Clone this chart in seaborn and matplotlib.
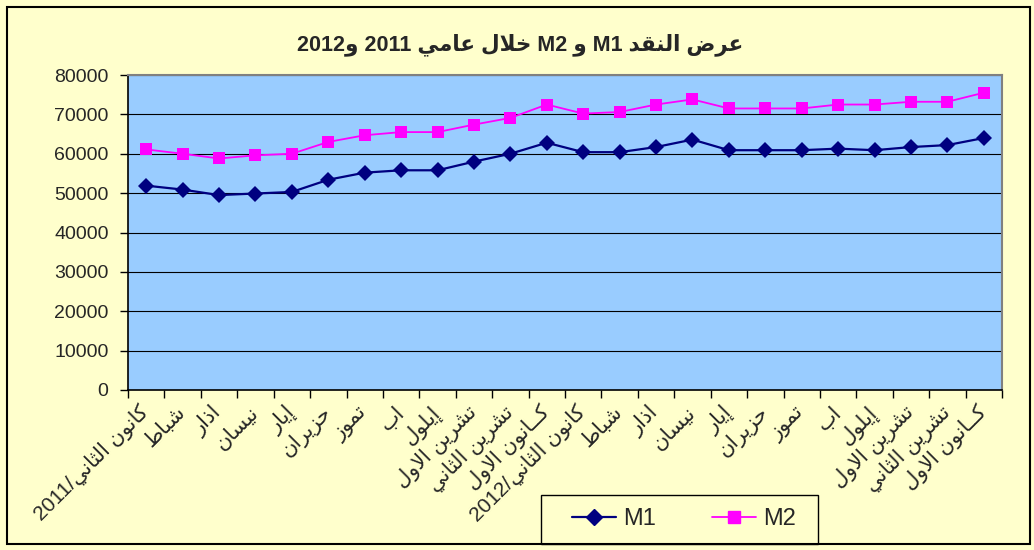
import re
import numpy as np
import pandas as pd
import matplotlib
matplotlib.use("Agg")
import matplotlib.pyplot as plt
from matplotlib.lines import Line2D
from matplotlib.patches import Rectangle
import seaborn as sns

sns.set_style("white")
plt.rcParams['font.family'] = ['Liberation Sans', 'DejaVu Sans']

# data
months = ["كانون الثاني/2011", "شباط", "اذار", "نيسان", "إيار", "حزيران", "تموز", "اب",
          "إيلول", "تشرين الاول", "تشرين الثاني", "كــانون الاول",
          "كانون الثاني/2012", "شباط", "اذار", "نيسان", "إيار", "حزيران", "تموز", "اب",
          "إيلول", "تشرين الاول", "تشرين الثاني", "كــانون الاول"]
m1 = [51900, 50900, 49500, 49900, 50300, 53400, 55200, 55800, 55800, 58000, 60000, 62800,
      60400, 60400, 61700, 63600, 60900, 60900, 60900, 61300, 60900, 61700, 62200, 64000]
m2 = [61100, 60000, 58800, 59600, 60000, 63000, 64700, 65500, 65500, 67400, 69100, 72500,
      70200, 70600, 72500, 73800, 71500, 71500, 71500, 72500, 72500, 73200, 73200, 75500]
title = "عرض النقد M1 و M2 خلال عامي 2011 و2012"

# minimal arabic shaping (presentation forms) + right-to-left ordering
AR_FORMS = {'ا': (0xFE8D, 2), 'إ': (0xFE87, 2), 'ب': (0xFE8F, 4), 'ت': (0xFE95, 4),
            'ث': (0xFE99, 4), 'ح': (0xFEA1, 4), 'خ': (0xFEA5, 4), 'د': (0xFEA9, 2),
            'ذ': (0xFEAB, 2), 'ر': (0xFEAD, 2), 'ز': (0xFEAF, 2), 'س': (0xFEB1, 4),
            'ش': (0xFEB5, 4), 'ض': (0xFEBD, 4), 'ط': (0xFEC1, 4), 'ع': (0xFEC9, 4),
            'ق': (0xFED5, 4), 'ك': (0xFED9, 4), 'ل': (0xFEDD, 4), 'م': (0xFEE1, 4),
            'ن': (0xFEE5, 4), 'و': (0xFEED, 2), 'ي': (0xFEF1, 4)}
LAM_ALEF = {'ا': 0xFEFB, 'إ': 0xFEF9}
TATWEEL = 'ـ'


def joins_fwd(ch):
    return ch == TATWEEL or (ch in AR_FORMS and AR_FORMS[ch][1] == 4)


def joins_back(ch):
    return ch == TATWEEL or ch in AR_FORMS


def ar(text):
    out = []
    i = 0
    while i < len(text):
        c = text[i]
        p = i > 0 and joins_fwd(text[i - 1])
        if c == 'ل' and i + 1 < len(text) and text[i + 1] in LAM_ALEF:
            out.append(chr(LAM_ALEF[text[i + 1]] + (1 if p else 0)))
            i += 2
            continue
        if c not in AR_FORMS:
            out.append(c)
            i += 1
            continue
        base, k = AR_FORMS[c]
        q = k == 4 and i + 1 < len(text) and joins_back(text[i + 1])
        idx = 3 if (p and q) else 1 if p else 2 if q else 0
        out.append(chr(base + idx))
        i += 1
    runs = re.findall(r'[A-Za-z0-9]+|.', ''.join(out))
    return ''.join(runs[::-1])


df = pd.DataFrame({"pos": list(range(len(months))) * 2,
                   "value": m1 + m2,
                   "series": ["M1"] * len(m1) + ["M2"] * len(m2)})

fig = plt.figure(figsize=(10.34, 5.5), dpi=100, facecolor="#FFFFCC")
ax = fig.add_axes([128 / 1034, 1 - 390 / 550, (1002 - 128) / 1034, (390 - 75) / 550])
ax.set_facecolor("#99CCFF")

colors = {"M1": "#000080", "M2": "#FF00FF"}
sns.lineplot(data=df, x="pos", y="value", hue="series", style="series",
             palette=colors, markers={"M1": "D", "M2": "s"}, dashes=False,
             markersize=8, markeredgewidth=0, ax=ax, legend=False)
for line, lw in zip(ax.lines, [1.6, 1.3]):
    line.set_linewidth(lw)

ax.set_xlim(-0.5, len(months) - 0.5)
ax.set_ylim(0, 80000)
ax.set_yticks(np.arange(0, 80001, 10000))
ax.set_yticklabels([str(v) for v in range(0, 80001, 10000)], fontsize=14)
ax.grid(True, axis="y", color="black", linewidth=0.8)
ax.set_xticks(np.arange(-0.5, len(months), 1))
ax.set_xticklabels([])
ax.set_xticks(np.arange(len(months)), minor=True)
ax.set_xticklabels([ar(m) for m in months], minor=True, rotation=45,
                   ha="right", va="center", rotation_mode="anchor", fontsize=15)
ax.tick_params(axis="x", which="major", length=6, width=1, color="black", direction="out", bottom=True)
ax.tick_params(axis="x", which="minor", length=0, pad=14)
ax.tick_params(axis="y", length=6, width=1, color="black", direction="out", left=True, pad=8)
ax.set_xlabel("")
ax.set_ylabel("")
for side in ["top", "right"]:
    ax.spines[side].set_color("#808080")
    ax.spines[side].set_linewidth(1.5)
for side in ["left", "bottom"]:
    ax.spines[side].set_color("black")
    ax.spines[side].set_linewidth(1.2)

fig.text(0.503, 1 - 45 / 550, ar(title), ha="center", va="center",
         fontsize=15.5, fontweight="bold")

# legend box
fig.patches.append(Rectangle((541 / 1034, 1 - 544 / 550), 277 / 1034, 49 / 550,
                             transform=fig.transFigure, facecolor="#FFFFCC",
                             edgecolor="black", linewidth=1, zorder=5))
handles = [Line2D([], [], color=colors["M1"], marker="D", markersize=8.5, lw=1.6, mec=colors["M1"]),
           Line2D([], [], color=colors["M2"], marker="s", markersize=8.5, lw=1.3, mec=colors["M2"])]
leg = fig.legend(handles, ["M1", "M2"], loc="center", ncol=2,
                 bbox_to_anchor=(684 / 1034, 1 - 519 / 550),
                 fontsize=17, frameon=False, handlelength=1.85, handletextpad=0.3,
                 columnspacing=2.4, borderpad=0, borderaxespad=0)
leg.set_zorder(6)

fig.patches.append(Rectangle((7 / 1034, 1 - 544 / 550), 1023 / 1034, 537 / 550,
                             transform=fig.transFigure, fill=False,
                             edgecolor="black", linewidth=1.5, zorder=10))

plt.savefig("out.png", dpi=100, facecolor=fig.get_facecolor())
plt.close()
